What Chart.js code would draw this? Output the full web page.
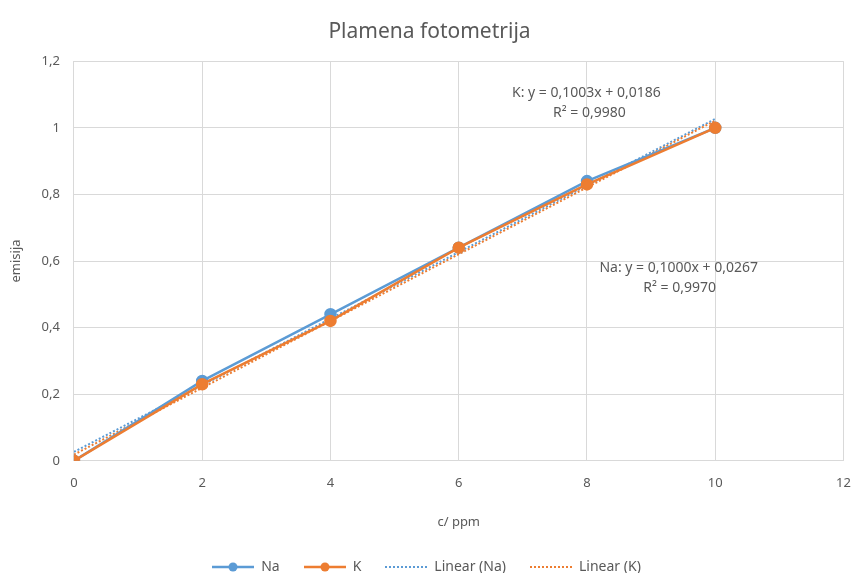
<!DOCTYPE html>
<html>
<head>
<meta charset="utf-8">
<script src="https://cdn.jsdelivr.net/npm/chart.js@4.4.1/dist/chart.umd.min.js"></script>
<style>
  body { margin: 0; background: #fff; }
  #wrap { position: relative; width: 851px; height: 573px; }
  #legend { position: absolute; left: 0; right: 0; top: 554px; text-align: center;
    font: 14px "Noto Sans", sans-serif; color: #595959; }
  #legend span.item { display: inline-block; margin: 0 11px; vertical-align: middle; }
  #legend canvas { vertical-align: middle; margin-right: 5px; }
</style>
</head>
<body>
<div id="wrap">
  <canvas id="myChart" width="851" height="573"></canvas>
  <div id="legend"></div>
</div>
<script>
var xValues = [0, 2, 4, 6, 8, 10];
var naValues = [0, 0.24, 0.44, 0.64, 0.84, 1.0];
var kValues = [0, 0.23, 0.42, 0.64, 0.83, 1.0];
// trendline ends (x = 0 and x = 10)
var trendX = [0, 10];
var naTrend = [0.0267, 1.0267];
var kTrend = [0.0186, 1.0216];
var xTicks = [0, 2, 4, 6, 8, 10, 12];
var yTicks = [0, 0.2, 0.4, 0.6, 0.8, 1, 1.2];

var blue = '#5B9BD5';
var orange = '#ED7D31';
var textColor = '#595959';
var font = '"Noto Sans", sans-serif';

function pts(xs, ys) {
  return xs.map(function (x, i) { return { x: x, y: ys[i] }; });
}
function comma(v) {
  return String(Math.round(v * 10) / 10).replace('.', ',');
}

// equation labels, placed at data coordinates
var eqLabels = [
  { x: 7.99, y: 1.103, lines: ['K: y = 0,1003x + 0,0186', 'R\u00b2 = 0,9980'], dx: 3 },
  { x: 9.43, y: 0.580, lines: ['Na: y = 0,1000x + 0,0267', 'R\u00b2 = 0,9970'], dx: 1 }
];

var eqPlugin = {
  id: 'eqPlugin',
  afterDatasetsDraw: function (chart) {
    var ctx = chart.ctx;
    var xs = chart.scales.x, ys = chart.scales.y;
    ctx.save();
    ctx.font = '14px ' + font;
    ctx.fillStyle = textColor;
    ctx.textBaseline = 'middle';
    ctx.textAlign = 'center';
    eqLabels.forEach(function (l) {
      var px = xs.getPixelForValue(l.x), py = ys.getPixelForValue(l.y);
      ctx.fillText(l.lines[0], px, py);
      ctx.fillText(l.lines[1], px + l.dx, py + 20);
    });
    ctx.restore();
  }
};

var ctx = document.getElementById('myChart').getContext('2d');
var chart = new Chart(ctx, {
  type: 'scatter',
  data: {
    datasets: [
      { label: 'K', data: pts(xValues, kValues), showLine: true,
        borderColor: orange, backgroundColor: orange, borderWidth: 2.5, pointRadius: 5 },
      { label: 'Na', data: pts(xValues, naValues), showLine: true,
        borderColor: blue, backgroundColor: blue, borderWidth: 2.5, pointRadius: 5 },
      { label: 'Linear (K)', data: pts(trendX, kTrend), showLine: true,
        borderColor: orange, borderWidth: 2, borderDash: [2, 2], pointRadius: 0 },
      { label: 'Linear (Na)', data: pts(trendX, naTrend), showLine: true,
        borderColor: blue, borderWidth: 2, borderDash: [2, 2], pointRadius: 0 }
    ]
  },
  options: {
    responsive: false,
    animation: false,
    layout: { padding: { top: 10, right: 0, bottom: 39, left: 8 } },
    plugins: {
      legend: { display: false },
      tooltip: { enabled: false },
      title: {
        display: true,
        text: 'Plamena fotometrija',
        color: textColor,
        font: { family: font, size: 21, weight: 'normal' },
        padding: { top: 9, bottom: 17 }
      }
    },
    scales: {
      x: {
        type: 'linear', min: 0, max: 12,
        afterBuildTicks: function (s) { s.ticks = xTicks.map(function (v) { return { value: v }; }); },
        afterFit: function (s) { s.paddingRight = 7; },
        grid: { color: '#D9D9D9', drawTicks: false },
        border: { color: '#D9D9D9' },
        ticks: { color: textColor, font: { family: font, size: 13 }, padding: 15 },
        title: { display: true, text: 'c/ ppm', color: textColor,
          font: { family: font, size: 13 }, padding: { top: 8 } }
      },
      y: {
        min: 0, max: 1.2,
        afterBuildTicks: function (s) { s.ticks = yTicks.map(function (v) { return { value: v }; }); },
        grid: { color: '#D9D9D9', drawTicks: false },
        border: { color: '#D9D9D9' },
        ticks: { color: textColor, font: { family: font, size: 13 }, padding: 14,
          callback: function (v) { return comma(v); } },
        title: { display: true, text: 'emisija', color: textColor,
          font: { family: font, size: 13 }, padding: { top: 0, bottom: 4 } }
      }
    }
  },
  plugins: [eqPlugin]
});

// legend in html
var legendItems = [
  { text: 'Na', color: blue, dash: false },
  { text: 'K', color: orange, dash: false },
  { text: 'Linear (Na)', color: blue, dash: true },
  { text: 'Linear (K)', color: orange, dash: true }
];
var leg = document.getElementById('legend');
legendItems.forEach(function (it) {
  var span = document.createElement('span');
  span.className = 'item';
  var c = document.createElement('canvas');
  c.width = 46; c.height = 12;
  var g = c.getContext('2d');
  g.strokeStyle = it.color;
  g.lineWidth = it.dash ? 2 : 2.5;
  if (it.dash) g.setLineDash([2, 2]);
  g.beginPath(); g.moveTo(2, 6); g.lineTo(44, 6); g.stroke();
  if (!it.dash) {
    g.fillStyle = it.color;
    g.beginPath(); g.arc(23, 6, 4.5, 0, Math.PI * 2); g.fill();
  }
  span.appendChild(c);
  span.appendChild(document.createTextNode(it.text));
  leg.appendChild(span);
});
</script>
</body>
</html>
